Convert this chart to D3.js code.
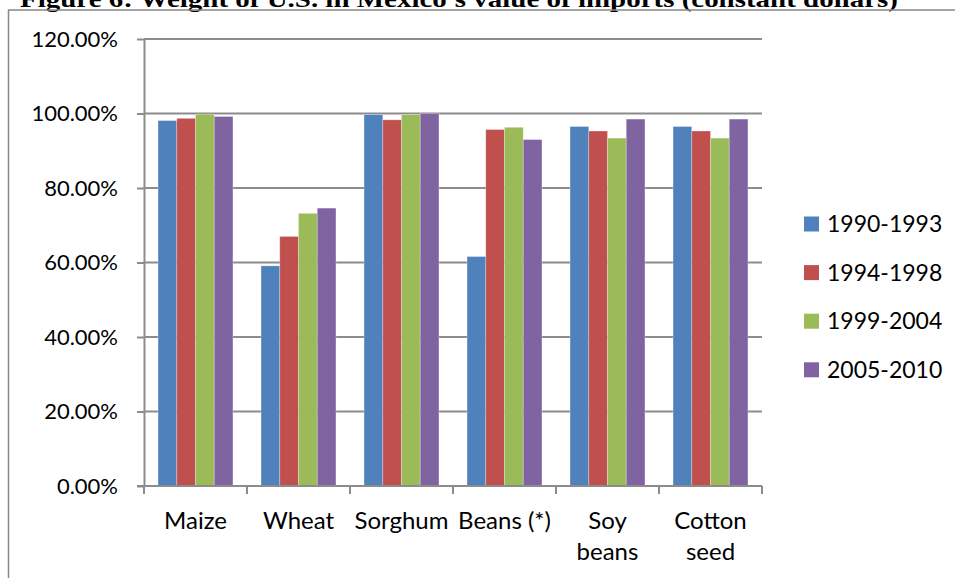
<!DOCTYPE html>
<html lang="en">
<head>
    <meta charset="UTF-8">
    <title>Weight of U.S. in Mexico's value of imports</title>
    <script src="https://d3js.org/d3.v7.min.js"></script>
    <style>
        body { margin: 0; background: #fff; }
        text { font-family: Lato, "Open Sans", sans-serif; fill: #000; }
    </style>
</head>
<body>
    <script>
        // data
        var categories = ["Maize", "Wheat", "Sorghum", "Beans (*)", "Soy beans", "Cotton seed"];
        var categoryLines = [["Maize"], ["Wheat"], ["Sorghum"], ["Beans (*)"], ["Soy", "beans"], ["Cotton", "seed"]];
        var periods = ["1990-1993", "1994-1998", "1999-2004", "2005-2010"];
        var v1990 = [0.981, 0.591, 0.997, 0.616, 0.965, 0.965];
        var v1994 = [0.987, 0.670, 0.983, 0.957, 0.953, 0.953];
        var v1999 = [0.998, 0.732, 0.997, 0.963, 0.934, 0.934];
        var v2005 = [0.992, 0.746, 1.000, 0.930, 0.985, 0.985];
        var yTicks = [0, 0.2, 0.4, 0.6, 0.8, 1.0, 1.2];
        var colors = ["#4F81BD", "#C0504D", "#9BBB59", "#8064A2"];
        var title = "Figure 6: Weight of U.S. in Mexico's value of imports (constant dollars)";

        var seriesValues = [v1990, v1994, v1999, v2005];

        var w = 955, h = 578;
        var plotLeft = 144, plotRight = 762, plotTop = 39, plotBottom = 486;

        var svg = d3.select("body").append("svg")
                    .attr("width", w)
                    .attr("height", h);

        // title, cut off at the top like in the document
        svg.append("text")
            .attr("x", 20)
            .attr("y", 7)
            .attr("textLength", 878)
            .attr("lengthAdjust", "spacingAndGlyphs")
            .style("font-family", "'Liberation Serif', 'Times New Roman', serif")
            .style("font-weight", "bold")
            .style("font-size", "24px")
            .text(title);

        // chart frame
        svg.append("path")
            .attr("d", "M8.5," + h + "V10H" + w)
            .attr("fill", "none")
            .attr("stroke", "#888")
            .attr("stroke-width", 1.5);

        // scales
        var x0 = d3.scaleBand()
                    .domain(categories)
                    .range([plotLeft, plotRight])
                    .padding(0);

        var x1 = d3.scaleBand()
                    .domain(periods)
                    .range([0, x0.bandwidth()])
                    .paddingInner(0)
                    .paddingOuter(0.75);

        var y = d3.scaleLinear()
                    .domain([0, 1.2])
                    .range([plotBottom, plotTop]);

        // gridlines
        svg.append("g")
            .selectAll("line")
            .data(yTicks.slice(1))
            .join("line")
            .attr("x1", plotLeft)
            .attr("x2", plotRight)
            .attr("y1", (d) => y(d))
            .attr("y2", (d) => y(d))
            .attr("stroke", "#8c8c8c")
            .attr("stroke-width", 2);

        // bars
        var groups = svg.append("g")
                        .selectAll("g")
                        .data(categories)
                        .join("g")
                        .attr("transform", (d) => "translate(" + x0(d) + ",0)");

        groups.selectAll("rect")
            .data((d, i) => periods.map((p, j) => ({ period: p, value: seriesValues[j][i], idx: j })))
            .join("rect")
            .attr("x", (d) => x1(d.period))
            .attr("y", (d) => y(d.value))
            .attr("width", x1.bandwidth())
            .attr("height", (d) => y(0) - y(d.value))
            .attr("fill", (d) => colors[d.idx])
            .attr("stroke", "rgba(255,255,255,0.35)")
            .attr("stroke-width", 0.8);

        // y axis
        var yAxis = svg.append("g")
                        .attr("transform", "translate(" + plotLeft + ",0)")
                        .call(d3.axisLeft(y)
                                .tickValues(yTicks)
                                .tickFormat(d3.format(".2%"))
                                .tickSize(7)
                                .tickSizeOuter(0)
                                .tickPadding(19));
        yAxis.selectAll("path, line").attr("stroke", "#8c8c8c").attr("stroke-width", 2);
        yAxis.selectAll("text").style("font-size", "22px").style("font-family", "Lato, sans-serif");

        // x axis: ticks at category boundaries
        var boundaries = categories.map((c) => x0(c)).concat([plotRight]);
        svg.append("line")
            .attr("x1", plotLeft - 7).attr("x2", plotRight)
            .attr("y1", plotBottom).attr("y2", plotBottom)
            .attr("stroke", "#8c8c8c").attr("stroke-width", 2);
        svg.append("g")
            .selectAll("line")
            .data(boundaries)
            .join("line")
            .attr("x1", (d) => d).attr("x2", (d) => d)
            .attr("y1", plotBottom).attr("y2", plotBottom + 8)
            .attr("stroke", "#8c8c8c").attr("stroke-width", 2);

        var xLabels = svg.append("g")
                        .selectAll("text")
                        .data(categories)
                        .join("text")
                        .attr("x", (d) => x0(d) + x0.bandwidth() / 2)
                        .attr("y", 529)
                        .attr("text-anchor", "middle")
                        .style("font-size", "24px");
        xLabels.selectAll("tspan")
            .data((d, i) => categoryLines[i])
            .join("tspan")
            .attr("x", function() { return d3.select(this.parentNode).attr("x"); })
            .attr("dy", (d, i) => i === 0 ? 0 : 31)
            .text((d) => d);

        // legend
        var legend = svg.append("g")
                        .selectAll("g")
                        .data(periods)
                        .join("g")
                        .attr("transform", (d, i) => "translate(804," + (224 + i * 48.6) + ")");
        legend.append("rect")
            .attr("x", 0).attr("y", -7.5)
            .attr("width", 15).attr("height", 15)
            .attr("fill", (d, i) => colors[i]);
        legend.append("text")
            .attr("x", 23)
            .attr("y", 8)
            .style("font-size", "23px")
            .text((d) => d);
    </script>
</body>
</html>
